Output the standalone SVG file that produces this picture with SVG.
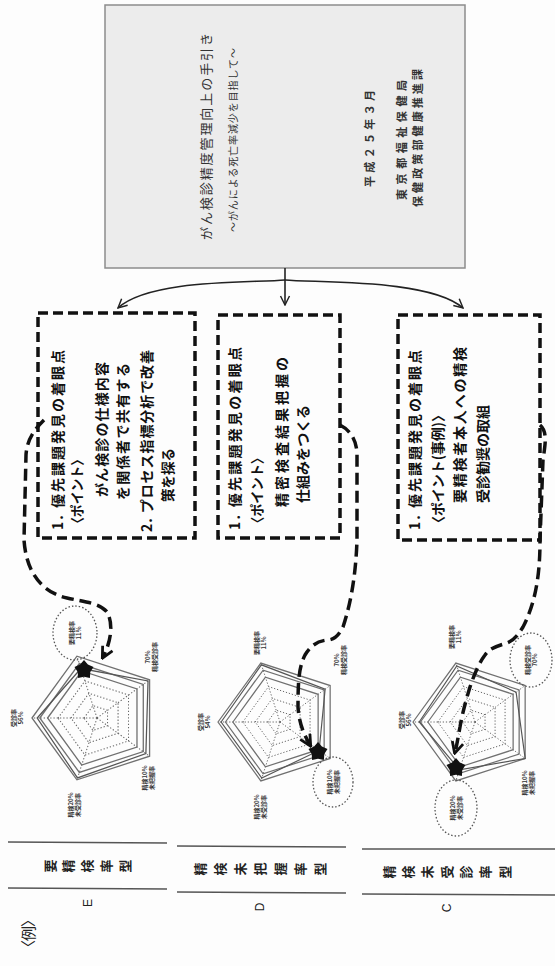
<svg xmlns="http://www.w3.org/2000/svg" xmlns:xlink="http://www.w3.org/1999/xlink" width="555" height="966" viewBox="0 0 555 966">
<style>
.jp{font-family:"Noto Sans CJK JP","Noto Sans",sans-serif}
.bx{font-family:"Noto Sans CJK JP",sans-serif;font-size:14px;font-weight:bold;fill:#111}
.cv{font-family:"Noto Sans CJK JP",sans-serif;fill:#333}
.lbl{font-family:"Noto Sans CJK JP",sans-serif;font-size:6px;font-weight:bold;fill:#333}
.row{font-family:"Noto Sans CJK JP",sans-serif;font-size:13px;font-weight:bold;fill:#222}
.let{font-family:"Liberation Sans",sans-serif;font-size:12px;fill:#222}
.dbox{fill:none;stroke:#111;stroke-width:3.5;stroke-dasharray:10 5}
.dcurve{fill:none;stroke:#111;stroke-width:3.5;stroke-dasharray:12 6}
.thin{fill:none;stroke:#222;stroke-width:1.6}
.tline{stroke:#555;stroke-width:1.5}
.ell{fill:none;stroke:#555;stroke-width:1.3;stroke-dasharray:1.5 2}
.data{fill:none;stroke:#555;stroke-width:1.9}
.star{fill:#111}
</style>
<defs>
<marker id="ah" viewBox="0 0 10 10" refX="8" refY="5" markerWidth="4" markerHeight="4" orient="auto"><path d="M1,1 L9,5 L1,9" fill="none" stroke="#111" stroke-width="2"/></marker>
<marker id="ah2" viewBox="0 0 10 10" refX="9" refY="5" markerWidth="7" markerHeight="7" orient="auto"><path d="M1,1 L9,5 L1,9" fill="none" stroke="#222" stroke-width="1.3"/></marker>
<g id="grid">
<path d="M0,0 L-100,0 M0,0 L-30.9,-95.1 M0,0 L80.9,-58.8 M0,0 L80.9,58.8 M0,0 L-30.9,95.1" fill="none" stroke="#666" stroke-width="1.6" stroke-dasharray="2 3"/>
<polygon points="-20,0 -6.2,-19 16.2,-11.8 16.2,11.8 -6.2,19" fill="none" stroke="#666" stroke-width="1.6" stroke-dasharray="2 3"/>
<polygon points="-40,0 -12.4,-38 32.4,-23.5 32.4,23.5 -12.4,38" fill="none" stroke="#666" stroke-width="1.6" stroke-dasharray="2 3"/>
<polygon points="-60,0 -18.5,-57.1 48.5,-35.3 48.5,35.3 -18.5,57.1" fill="none" stroke="#666" stroke-width="1.6" stroke-dasharray="2 3"/>
<polygon points="-76,0 -23.5,-72.3 61.5,-44.7 61.5,44.7 -23.5,72.3" fill="none" stroke="#707070" stroke-width="2"/>
<polygon points="-88,0 -27.2,-83.7 71.2,-51.7 71.2,51.7 -27.2,83.7" fill="none" stroke="#707070" stroke-width="2"/>
<polygon points="-100,0 -30.9,-95.1 80.9,-58.8 80.9,58.8 -30.9,95.1" fill="none" stroke="#707070" stroke-width="2"/>
</g>
<polygon id="starshape" points="0,-10 3.9,-5.4 9.5,-3.1 6.3,2.1 5.9,8.1 0,6.7 -5.9,8.1 -6.3,2.1 -9.5,-3.1 -3.9,-5.4"/>
</defs>
<rect width="555" height="966" fill="#fdfdfd"/>

<g id="cover">
<rect x="105" y="5" width="360" height="263" fill="#ececec" stroke="#8c8c8c" stroke-width="1.5"/>
<text class="cv" font-size="13" transform="translate(211,240) rotate(-90)" textLength="207" lengthAdjust="spacing">がん検診精度管理向上の手引き</text>
<text class="cv" font-size="10" transform="translate(237,232) rotate(-90)" textLength="184" lengthAdjust="spacing">～がんによる死亡率減少を目指して～</text>
<text class="cv" font-size="11" font-weight="bold" transform="translate(374,187) rotate(-90)" textLength="97" lengthAdjust="spacing">平成２５年３月</text>
<text class="cv" font-size="11" font-weight="bold" transform="translate(406,200) rotate(-90)" textLength="120" lengthAdjust="spacing">東京都福祉保健局</text>
<text class="cv" font-size="11" font-weight="bold" transform="translate(422,207) rotate(-90)" textLength="138" lengthAdjust="spacing">保健政策部健康推進課</text>
</g>

<g id="box-E">
<rect class="dbox" x="38" y="313" width="157" height="225"/>
<text class="bx" transform="translate(63,530) rotate(-90)" textLength="180" lengthAdjust="spacing">1. 優先課題発見の着眼点</text>
<text class="bx" transform="translate(82,530) rotate(-90)" textLength="77" lengthAdjust="spacingAndGlyphs">〈ポイント〉</text>
<text class="bx" transform="translate(107,497) rotate(-90)" textLength="135" lengthAdjust="spacing">がん検診の仕様内容</text>
<text class="bx" transform="translate(128,500) rotate(-90)" textLength="137" lengthAdjust="spacing">を関係者で共有する</text>
<text class="bx" transform="translate(152,532) rotate(-90)" textLength="182" lengthAdjust="spacing">2. プロセス指標分析で改善</text>
<text class="bx" transform="translate(173,502) rotate(-90)" textLength="54" lengthAdjust="spacingAndGlyphs">策を探る</text>
</g>

<g id="box-D">
<rect class="dbox" x="218" y="315" width="122" height="223"/>
<text class="bx" transform="translate(240,530) rotate(-90)" textLength="183" lengthAdjust="spacing">1. 優先課題発見の着眼点</text>
<text class="bx" transform="translate(262,530) rotate(-90)" textLength="79" lengthAdjust="spacingAndGlyphs">〈ポイント〉</text>
<text class="bx" transform="translate(287,507) rotate(-90)" textLength="150" lengthAdjust="spacing">精密検査結果把握の</text>
<text class="bx" transform="translate(308,503) rotate(-90)" textLength="98" lengthAdjust="spacing">仕組みをつくる</text>
</g>

<g id="box-C">
<rect class="dbox" x="398" y="315" width="142" height="225"/>
<text class="bx" transform="translate(420,530) rotate(-90)" textLength="180" lengthAdjust="spacing">1. 優先課題発見の着眼点</text>
<text class="bx" transform="translate(443,530) rotate(-90)" textLength="122" lengthAdjust="spacing">〈ポイント(事例)〉</text>
<text class="bx" transform="translate(465,503) rotate(-90)" textLength="156" lengthAdjust="spacing">要精検者本人への精検</text>
<text class="bx" transform="translate(488,503) rotate(-90)" textLength="98" lengthAdjust="spacing">受診勧奨の取組</text>
</g>

<g id="chart-E">
<g transform="translate(97,718) scale(0.65)">
<use xlink:href="#grid"/>
<polygon class="data" points="-92,0 -24.7,-76.1 78.5,-57 75.2,54.7 -30,92.2"/>
</g>
<use xlink:href="#starshape" class="star" transform="translate(84,670)"/>
<ellipse class="ell" cx="75" cy="633" rx="22" ry="27"/>
<text class="lbl" text-anchor="middle" transform="translate(17,718) rotate(-90)"><tspan x="0" y="-1.5">受診率</tspan><tspan x="0" y="6">56%</tspan></text>
<text class="lbl" text-anchor="middle" transform="translate(75,633) rotate(-90)"><tspan x="0" y="-1.5">要精検率</tspan><tspan x="0" y="6">11%</tspan></text>
<text class="lbl" text-anchor="middle" transform="translate(151,657) rotate(-90)"><tspan x="0" y="-1.5">70%</tspan><tspan x="0" y="6">精検受診率</tspan></text>
<text class="lbl" text-anchor="middle" transform="translate(148,778) rotate(-90)"><tspan x="0" y="-1.5">精検10%</tspan><tspan x="0" y="6">未把握率</tspan></text>
<text class="lbl" text-anchor="middle" transform="translate(74,805) rotate(-90)"><tspan x="0" y="-1.5">精検20%</tspan><tspan x="0" y="6">未受診率</tspan></text>
</g>

<g id="chart-D">
<g transform="translate(280,722) scale(0.62)">
<use xlink:href="#grid"/>
<polygon class="data" points="-95,0 -30,-92.2 72.8,-52.9 63.1,45.9 -29.4,90.3"/>
</g>
<use xlink:href="#starshape" class="star" transform="translate(318,752)"/>
<ellipse class="ell" cx="333" cy="782" rx="20" ry="25"/>
<text class="lbl" text-anchor="middle" transform="translate(204,722) rotate(-90)"><tspan x="0" y="-1.5">受診率</tspan><tspan x="0" y="6">54%</tspan></text>
<text class="lbl" text-anchor="middle" transform="translate(260,643) rotate(-90)"><tspan x="0" y="-1.5">要精検率</tspan><tspan x="0" y="6">11%</tspan></text>
<text class="lbl" text-anchor="middle" transform="translate(340,660) rotate(-90)"><tspan x="0" y="-1.5">70%</tspan><tspan x="0" y="6">精検受診率</tspan></text>
<text class="lbl" text-anchor="middle" transform="translate(333,782) rotate(-90)"><tspan x="0" y="-1.5">精検10%</tspan><tspan x="0" y="6">未把握率</tspan></text>
<text class="lbl" text-anchor="middle" transform="translate(260,807) rotate(-90)"><tspan x="0" y="-1.5">精検20%</tspan><tspan x="0" y="6">未受診率</tspan></text>
</g>

<g id="chart-C">
<g transform="translate(475,722) scale(0.62)">
<use xlink:href="#grid"/>
<polygon class="data" points="-90,0 -29.4,-90.3 66.3,-48.2 80.9,58.8 -25,77"/>
</g>
<use xlink:href="#starshape" class="star" transform="translate(456,768)"/>
<ellipse class="ell" cx="531" cy="660" rx="21" ry="27"/>
<ellipse class="ell" cx="456" cy="808" rx="21" ry="28"/>
<text class="lbl" text-anchor="middle" transform="translate(405,720) rotate(-90)"><tspan x="0" y="-1.5">受診率</tspan><tspan x="0" y="6">56%</tspan></text>
<text class="lbl" text-anchor="middle" transform="translate(455,637) rotate(-90)"><tspan x="0" y="-1.5">要精検率</tspan><tspan x="0" y="6">11%</tspan></text>
<text class="lbl" text-anchor="middle" transform="translate(531,660) rotate(-90)"><tspan x="0" y="-1.5">精検受診率</tspan><tspan x="0" y="6">70%</tspan></text>
<text class="lbl" text-anchor="middle" transform="translate(528,783) rotate(-90)"><tspan x="0" y="-1.5">精検10%</tspan><tspan x="0" y="6">未把握率</tspan></text>
<text class="lbl" text-anchor="middle" transform="translate(456,808) rotate(-90)"><tspan x="0" y="-1.5">精検20%</tspan><tspan x="0" y="6">未受診率</tspan></text>
</g>

<g id="table">
<line class="tline" x1="8" y1="842" x2="167" y2="843"/>
<line class="tline" x1="8" y1="888" x2="167" y2="889"/>
<line class="tline" x1="177" y1="846" x2="346" y2="847"/>
<line class="tline" x1="177" y1="892" x2="346" y2="893"/>
<line class="tline" x1="362" y1="849" x2="555" y2="849"/>
<line class="tline" x1="362" y1="894" x2="555" y2="895"/>
<g class="row" text-anchor="middle" dominant-baseline="central">
<text transform="translate(49,866) rotate(-90)">要</text>
<text transform="translate(67.8,866) rotate(-90)">精</text>
<text transform="translate(86.5,866) rotate(-90)">検</text>
<text transform="translate(105.3,866) rotate(-90)">率</text>
<text transform="translate(124,866) rotate(-90)">型</text>
<text transform="translate(199,869) rotate(-90)">精</text>
<text transform="translate(219,869) rotate(-90)">検</text>
<text transform="translate(239,869) rotate(-90)">未</text>
<text transform="translate(259,869) rotate(-90)">把</text>
<text transform="translate(279,869) rotate(-90)">握</text>
<text transform="translate(299,869) rotate(-90)">率</text>
<text transform="translate(319,869) rotate(-90)">型</text>
<text transform="translate(388,872) rotate(-90)">精</text>
<text transform="translate(407.3,872) rotate(-90)">検</text>
<text transform="translate(426.7,872) rotate(-90)">未</text>
<text transform="translate(446,872) rotate(-90)">受</text>
<text transform="translate(465.3,872) rotate(-90)">診</text>
<text transform="translate(484.7,872) rotate(-90)">率</text>
<text transform="translate(504,872) rotate(-90)">型</text>
</g>
<text class="let" text-anchor="middle" dominant-baseline="central" transform="translate(88,903) rotate(-90)">E</text>
<text class="let" text-anchor="middle" dominant-baseline="central" transform="translate(260,907) rotate(-90)">D</text>
<text class="let" text-anchor="middle" dominant-baseline="central" transform="translate(447,908) rotate(-90)">C</text>
<text class="jp" font-size="15" fill="#222" transform="translate(34,955) rotate(-90)" textLength="43" lengthAdjust="spacing">〈例〉</text>
</g>

<g id="connectors">
<path class="thin" d="M285,268 L285,305" marker-end="url(#ah2)"/>
<path class="thin" d="M285,280 C250,283 150,279 118,308" marker-end="url(#ah2)"/>
<path class="thin" d="M285,280 C320,283 430,279 463,308" marker-end="url(#ah2)"/>
<path class="dcurve" d="M44,420 C36,428 27,438 26,455 L24,540 C26,570 40,592 67,598 C85,602 100,603 107,612 C113,622 112,640 103,657" marker-end="url(#ah)"/>
<path class="dcurve" d="M340,425 C350,430 357,440 357,455 L357,540 C356,570 352,600 343,627 C338,637 333,640 327,640 C318,641 311,645 305,655 C299,667 298,680 298,707 C299,722 303,733 310,745" marker-end="url(#ah)"/>
<path class="dcurve" d="M540,425 C548,432 545,445 543,460 L540,540 C540,570 537,600 523,627 C517,637 512,641 507,643 C497,646 490,648 485,655 C479,663 474,675 470,687 C466,700 462,715 460,727 C458,737 457,745 455,752" marker-end="url(#ah)"/>
</g>
</svg>
